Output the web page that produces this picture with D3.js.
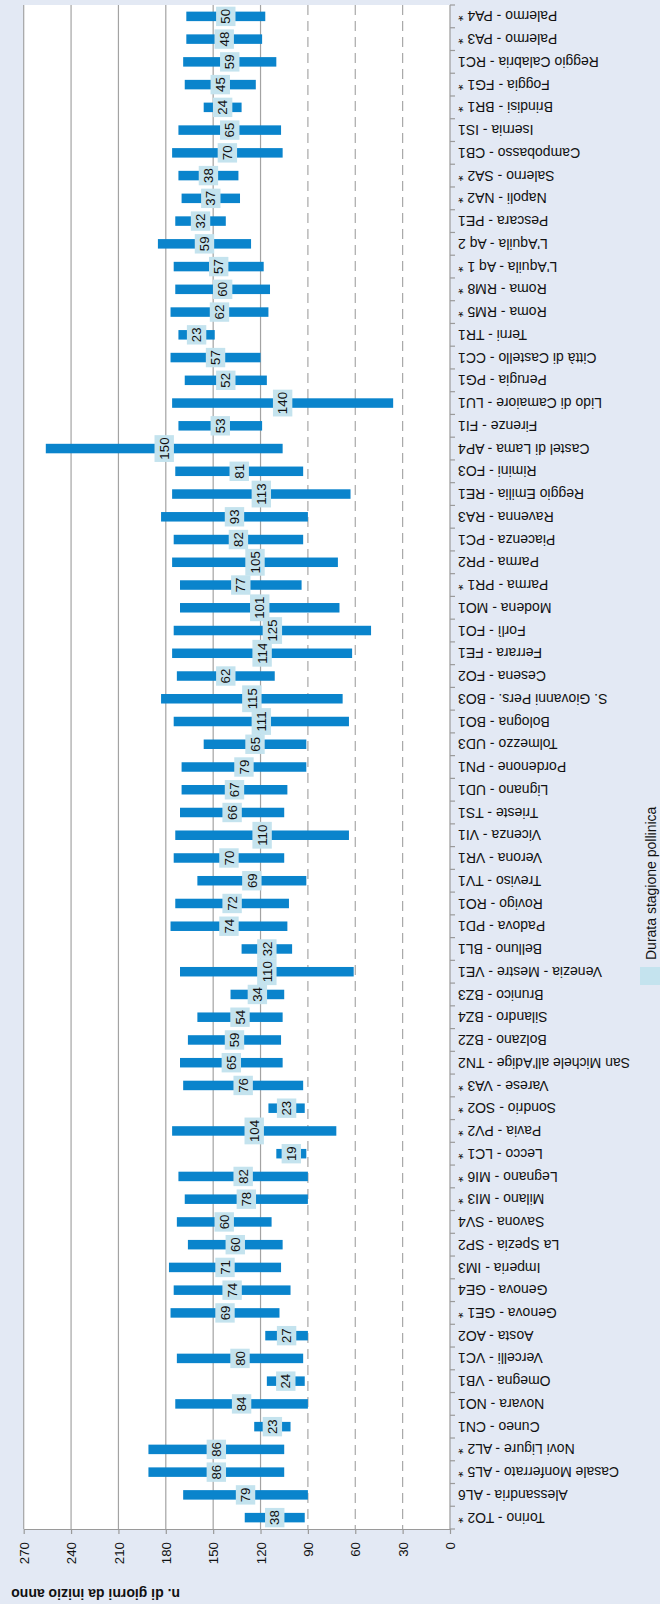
<!DOCTYPE html>
<html>
<head>
<meta charset="utf-8">
<script src="https://cdn.jsdelivr.net/npm/d3@7"></script>
<style>
  body { margin: 0; background: #e3e9f4; }
  svg { display: block; font-family: "Liberation Sans", Arial, sans-serif; }
</style>
</head>
<body>
<div id="chart-area"></div>
<script>
var w = 660;
var h = 1604;

// stazioni, dal basso (Torino) verso l'alto (Palermo)
const stations = [
  "Torino - TO2 *", "Alessandria - AL6", "Casale Monferrato - AL5 *", "Novi Ligure - AL2 *",
  "Cuneo - CN1", "Novara - NO1", "Omegna - VB1", "Vercelli - VC1", "Aosta - AO2",
  "Genova - GE1 *", "Genova - GE4", "Imperia - IM3", "La Spezia - SP2", "Savona - SV4",
  "Milano - MI3 *", "Legnano - MI6 *", "Lecco - LC1 *", "Pavia - PV2 *", "Sondrio - SO2 *",
  "Varese - VA3 *", "San Michele all'Adige - TN2", "Bolzano - BZ2", "Silandro - BZ4",
  "Brunico - BZ3", "Venezia - Mestre - VE1", "Belluno - BL1", "Padova - PD1", "Rovigo - RO1",
  "Treviso - TV1", "Verona - VR1", "Vicenza - VI1", "Trieste - TS1", "Lignano - UD1",
  "Pordenone - PN1", "Tolmezzo - UD3", "Bologna - BO1", "S. Giovanni Pers. - BO3",
  "Cesena - FO2", "Ferrara - FE1", "Forlì - FO1", "Modena - MO1", "Parma - PR1 *",
  "Parma - PR2", "Piacenza - PC1", "Ravenna - RA3", "Reggio Emilia - RE1", "Rimini - FO3",
  "Castel di Lama - AP4", "Firenze - FI1", "Lido di Camaiore - LU1", "Perugia - PG1",
  "Città di Castello - CC1", "Terni - TR1", "Roma - RM5 *", "Roma - RM8 *",
  "L'Aquila - Aq 1 *", "L'Aquila - Aq 2", "Pescara - PE1", "Napoli - NA2 *",
  "Salerno - SA2 *", "Campobasso - CB1", "Isernia - IS1", "Brindisi - BR1 *",
  "Foggia - FG1 *", "Reggio Calabria - RC1", "Palermo - PA3 *", "Palermo - PA4 *"
];

// giorno di inizio della stagione pollinica
const startDay = [
  92, 90, 105, 105, 101, 90, 92, 93, 90, 108, 101, 107, 106, 113, 90, 90, 91, 72, 92,
  93, 106, 107, 106, 105, 61, 100, 103, 102, 91, 105, 64, 105, 103, 91, 91, 64, 68,
  111, 62, 50, 70, 94, 71, 93, 90, 63, 93, 106, 119, 36, 116, 120, 149, 115, 114,
  118, 126, 142, 133, 134, 106, 107, 132, 123, 110, 119, 117
];

// durata (giorni)
const duration = [
  38, 79, 86, 86, 23, 84, 24, 80, 27, 69, 74, 71, 60, 60, 78, 82, 19, 104, 23,
  76, 65, 59, 54, 34, 110, 32, 74, 72, 69, 70, 110, 66, 67, 79, 65, 111, 115,
  62, 114, 125, 101, 77, 105, 82, 93, 113, 81, 150, 53, 140, 52, 57, 23, 62, 60,
  57, 59, 32, 37, 38, 70, 65, 24, 45, 59, 48, 50
];

const tickValues = [0, 30, 60, 90, 120, 150, 180, 210, 240, 270];
const dashedTicks = [30, 60, 90];
const axisTitle = "n. di giorni da inizio anno";
const legendLabel = "Durata stagione pollinica";

const data = stations.map((s, i) => ({ name: s, start: startDay[i], dur: duration[i] }));

const plot = { left: 23.7, right: 450, top: 5, bottom: 1529 };

var svg = d3.select("#chart-area").append("svg")
    .attr("width", w)
    .attr("height", h)
    .style("background-color", "#e3e9f4");

// valori: 0 a destra, 270 a sinistra
var x = d3.scaleLinear()
    .domain([0, 270])
    .range([plot.right, plot.left]);

var y = d3.scaleBand()
    .domain(stations)
    .range([plot.bottom, plot.top]);

svg.append("rect")
    .attr("x", plot.left)
    .attr("y", plot.top)
    .attr("width", plot.right - plot.left)
    .attr("height", plot.bottom - plot.top)
    .attr("fill", "#ffffff");

// griglia
svg.append("g").selectAll("line")
    .data(tickValues.filter(v => v > 0))
    .enter().append("line")
    .attr("x1", d => x(d)).attr("x2", d => x(d))
    .attr("y1", plot.top).attr("y2", plot.bottom)
    .attr("stroke", d => dashedTicks.includes(d) ? "#a8a8a8" : "#a3a3a3")
    .attr("stroke-width", 1.2)
    .attr("stroke-dasharray", d => dashedTicks.includes(d) ? "10,6" : null);

// asse dei valori
var xAxis = svg.append("g")
    .attr("transform", "translate(0," + plot.bottom + ")")
    .call(d3.axisBottom(x).tickValues(tickValues).tickSize(5).tickSizeOuter(0));

xAxis.select(".domain").attr("stroke", "#9a9a9a").attr("stroke-width", 1.2);
xAxis.selectAll(".tick line").attr("stroke", "#9a9a9a").attr("stroke-width", 1.2);
xAxis.selectAll(".tick text")
    .attr("transform", "translate(0,13) rotate(-90)")
    .attr("x", 0).attr("y", 0)
    .attr("dy", "0.35em")
    .attr("text-anchor", "end")
    .attr("fill", "#111")
    .style("font-size", "13.3px")
    .style("font-family", "'Liberation Sans', Arial, sans-serif");

// asse delle stazioni
svg.append("line")
    .attr("x1", plot.right).attr("x2", plot.right)
    .attr("y1", plot.top).attr("y2", plot.bottom)
    .attr("stroke", "#9a9a9a").attr("stroke-width", 1.2);

svg.append("g").selectAll("line")
    .data(d3.range(stations.length + 1))
    .enter().append("line")
    .attr("x1", plot.right).attr("x2", plot.right + 5)
    .attr("y1", i => plot.bottom - i * y.step())
    .attr("y2", i => plot.bottom - i * y.step())
    .attr("stroke", "#9a9a9a").attr("stroke-width", 1.2);

svg.append("g").selectAll("text")
    .data(data)
    .enter().append("text")
    .attr("transform", d => "translate(458," + (y(d.name) + y.bandwidth() / 2) + ") rotate(180)")
    .attr("dy", "0.35em")
    .attr("text-anchor", "end")
    .attr("fill", "#111")
    .style("font-size", "14px")
    .text(d => d.name);

// barre
var barH = 9.5;
svg.append("g").selectAll("rect")
    .data(data)
    .enter().append("rect")
    .attr("x", d => x(d.start + d.dur))
    .attr("y", d => y(d.name) + y.bandwidth() / 2 - barH / 2)
    .attr("width", d => x(d.start) - x(d.start + d.dur))
    .attr("height", barH)
    .attr("fill", "#0a84cc");

// etichette durata
var labels = svg.append("g").selectAll("g")
    .data(data)
    .enter().append("g")
    .attr("transform", d => "translate(" + x(d.start + d.dur / 2) + "," + (y(d.name) + y.bandwidth() / 2) + ")");

labels.append("rect")
    .attr("x", -9.7)
    .attr("y", d => -(String(d.dur).length * 7.4 + 4.6) / 2)
    .attr("width", 19.4)
    .attr("height", d => String(d.dur).length * 7.4 + 4.6)
    .attr("fill", "#c4e3ee");

labels.append("text")
    .attr("transform", "rotate(-90)")
    .attr("dy", "0.35em")
    .attr("text-anchor", "middle")
    .attr("fill", "#111")
    .style("font-size", "13.3px")
    .text(d => d.dur);

// titolo asse
svg.append("text")
    .attr("transform", "translate(180,1589) rotate(180)")
    .attr("text-anchor", "start")
    .attr("fill", "#111")
    .style("font-size", "14px")
    .style("font-weight", "bold")
    .text(axisTitle);

// legenda
svg.append("rect")
    .attr("x", 640).attr("y", 967)
    .attr("width", 20).attr("height", 18)
    .attr("fill", "#c4e3ee");

svg.append("text")
    .attr("transform", "translate(656,960) rotate(-90)")
    .attr("text-anchor", "start")
    .attr("fill", "#111")
    .style("font-size", "14px")
    .text(legendLabel);
</script>
</body>
</html>
